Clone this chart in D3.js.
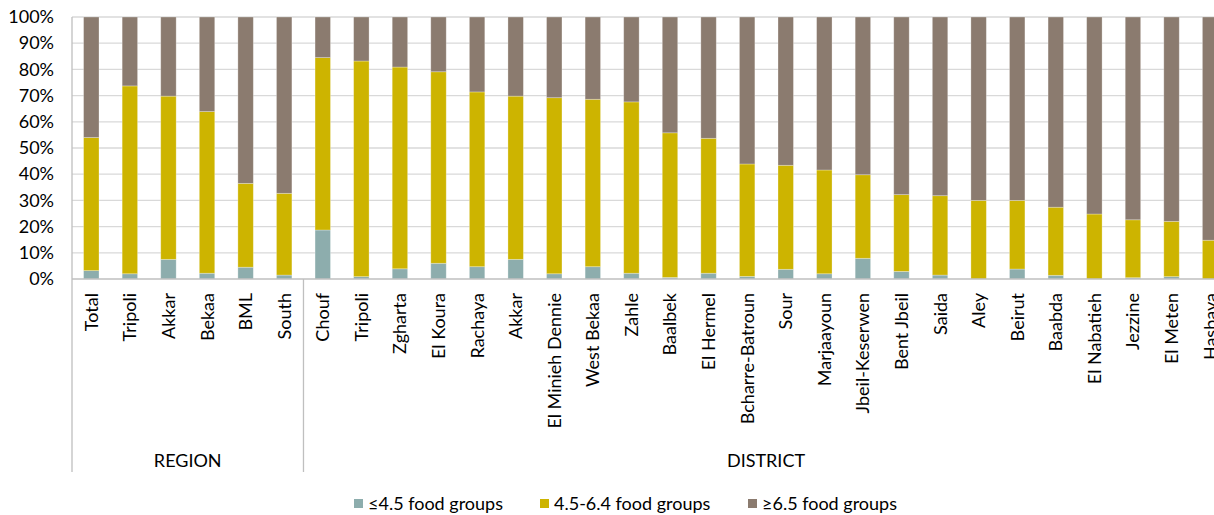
<!DOCTYPE html>
<html>
<head>
<meta charset="utf-8">
<script src="https://cdn.jsdelivr.net/npm/d3@7"></script>
<style>
  html, body { margin: 0; padding: 0; background: #fff; overflow: hidden; }
  svg { display: block; font-family: Lato, "Open Sans", sans-serif; }
</style>
</head>
<body>
<svg id="chart" width="1214" height="515"></svg>
<script>
const regionCats = ["Total", "Tripoli", "Akkar", "Bekaa", "BML", "South"];
const districtCats = ["Chouf", "Tripoli", "Zgharta", "El Koura", "Rachaya", "Akkar", "El Minieh Dennie", "West Bekaa",
  "Zahle", "Baalbek", "El Hermel", "Bcharre-Batroun", "Sour", "Marjaayoun", "Jbeil-Keserwen", "Bent Jbeil",
  "Saida", "Aley", "Beirut", "Baabda", "El Nabatieh", "Jezzine", "El Meten", "Hasbaya"];
const groupNames = ["REGION", "DISTRICT"];
const seriesNames = ["≤4.5 food groups", "4.5-6.4 food groups", "≥6.5 food groups"];

const lowRegion  = [3.2, 2.0, 7.5, 2.2, 4.5, 1.5];
const midRegion  = [50.8, 71.7, 62.3, 61.7, 32.0, 31.2];
const highRegion = [46.0, 26.3, 30.2, 36.1, 63.5, 67.3];

const lowDistrict  = [18.7, 0.9, 3.9, 6.0, 4.7, 7.5, 2.0, 4.7, 2.2, 0.6, 2.2, 1.0, 3.7, 2.0, 7.9, 2.9,
  1.5, 0.0, 3.8, 1.4, 0.0, 0.5, 0.9, 0.0];
const midDistrict  = [65.8, 82.3, 77.0, 73.1, 66.7, 62.3, 67.2, 63.9, 65.4, 55.2, 51.5, 42.9, 39.7, 39.6, 31.9, 29.3,
  30.3, 30.0, 26.2, 26.0, 24.8, 22.1, 21.1, 14.8];
const highDistrict = [15.5, 16.8, 19.1, 20.9, 28.6, 30.2, 30.8, 31.4, 32.4, 44.2, 46.3, 56.1, 56.6, 58.4, 60.2, 67.8,
  68.2, 70.0, 70.0, 72.6, 75.2, 77.4, 78.0, 85.2];

const yTicks = [0, 10, 20, 30, 40, 50, 60, 70, 80, 90, 100];
const colors = ["#8DADAD", "#CDB400", "#8B7B6F"];

(function () {
  const rows = [];
  regionCats.forEach((c, i) => rows.push({ key: "R" + i, label: c, group: 0, v: [lowRegion[i], midRegion[i], highRegion[i]] }));
  districtCats.forEach((c, i) => rows.push({ key: "D" + i, label: c, group: 1, v: [lowDistrict[i], midDistrict[i], highDistrict[i]] }));

  const svg = d3.select("#chart");
  const mLeft = 72, mTop = 17, mBottom = 279;
  const step = 38.58;
  const mRight = mLeft + step * rows.length;
  const fs = 18;

  const x = d3.scaleBand().domain(rows.map(r => r.key)).range([mLeft, mRight]).paddingInner(0.6).paddingOuter(0.3);
  const y = d3.scaleLinear().domain([0, 100]).range([mBottom, mTop]);

  // gridlines
  svg.append("g").selectAll("line").data(yTicks.filter(t => t > 0)).join("line")
    .attr("x1", mLeft).attr("x2", mRight)
    .attr("y1", d => y(d)).attr("y2", d => y(d))
    .attr("stroke", "#d9d9d9").attr("stroke-width", 1.3);

  // y axis labels
  const yAxis = d3.axisLeft(y).tickValues(yTicks).tickFormat(d => d + "%").tickSize(0).tickPadding(18);
  const yg = svg.append("g").attr("transform", `translate(${mLeft},0)`).call(yAxis);
  yg.select(".domain").remove();
  yg.selectAll("text").attr("font-size", fs).attr("fill", "#000").attr("font-family", "Lato, sans-serif");

  // stacked bars
  const stackData = rows.map(r => ({ key: r.key, s0: r.v[0], s1: r.v[1], s2: r.v[2] }));
  const layers = d3.stack().keys(["s0", "s1", "s2"])(stackData);
  svg.append("g").selectAll("g").data(layers).join("g")
    .attr("fill", (d, i) => colors[i])
    .selectAll("rect").data(d => d.filter(p => p[1] - p[0] > 0)).join("rect")
    .attr("x", d => x(d.data.key))
    .attr("width", x.bandwidth())
    .attr("y", d => y(d[1]))
    .attr("height", d => y(d[0]) - y(d[1]))
    .attr("stroke", "rgba(255,255,255,0.35)")
    .attr("stroke-width", 0.8);

  // x baseline
  svg.append("line").attr("x1", mLeft).attr("x2", mRight).attr("y1", mBottom).attr("y2", mBottom)
    .attr("stroke", "#bfbfbf").attr("stroke-width", 1.3);
  // left axis line
  svg.append("line").attr("x1", mLeft).attr("x2", mLeft).attr("y1", mTop).attr("y2", 472)
    .attr("stroke", "#bfbfbf").attr("stroke-width", 1.3);
  // group separator
  const sepX = mLeft + x.step() * regionCats.length;
  svg.append("line").attr("x1", sepX).attr("x2", sepX).attr("y1", mBottom).attr("y2", 472)
    .attr("stroke", "#bfbfbf").attr("stroke-width", 1.3);

  // category labels
  svg.append("g").selectAll("text").data(rows).join("text")
    .attr("transform", d => `translate(${x(d.key) + x.bandwidth() / 2 + 6.5},293) rotate(-90)`)
    .attr("text-anchor", "end")
    .attr("font-size", fs)
    .attr("fill", "#000")
    .text(d => d.label);

  // group labels
  svg.append("g").selectAll("text").data(groupNames).join("text")
    .attr("x", (d, i) => i === 0 ? (mLeft + sepX) / 2 : 766)
    .attr("y", 467)
    .attr("text-anchor", "middle")
    .attr("font-size", fs)
    .attr("fill", "#000")
    .text(d => d);

  // legend
  const legendX = [354, 540, 748];
  const lg = svg.append("g").selectAll("g").data(seriesNames).join("g")
    .attr("transform", (d, i) => `translate(${legendX[i]},499)`);
  lg.append("rect").attr("width", 9).attr("height", 9).attr("fill", (d, i) => colors[i]);
  lg.append("text").attr("x", 14).attr("y", 11).attr("font-size", fs).attr("fill", "#000").text(d => d);
})();
</script>
</body>
</html>
